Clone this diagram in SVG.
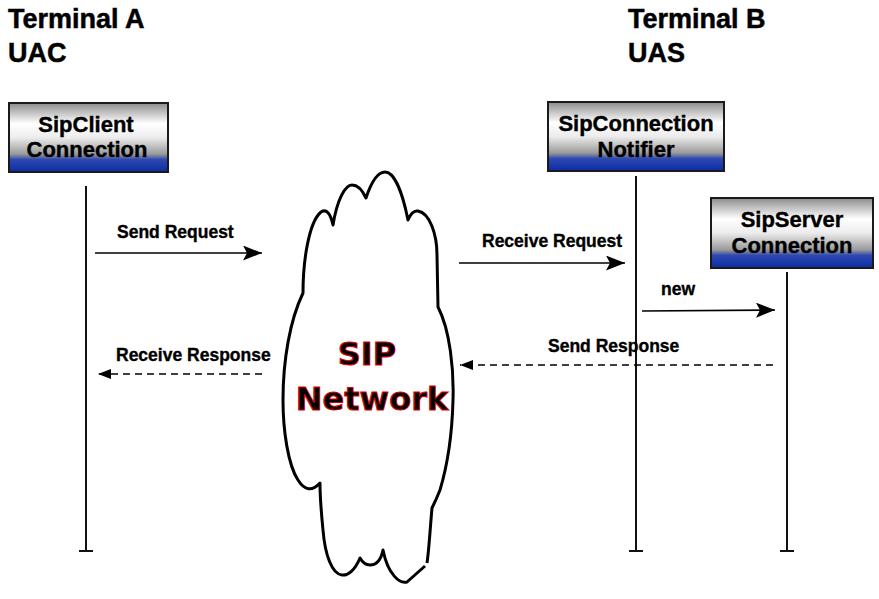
<svg xmlns="http://www.w3.org/2000/svg" width="879" height="599" viewBox="0 0 879 599">
<style>
.title{font-family:"Liberation Sans",Arial,sans-serif;font-weight:bold;font-size:27px;fill:#000;stroke:#000;stroke-width:0.5}
.box{stroke:#1a1a1a;stroke-width:2;fill:url(#boxg)}
.bt{font-family:"Liberation Sans",Arial,sans-serif;font-weight:bold;font-size:22px;fill:#000;stroke:#000;stroke-width:0.4;text-anchor:middle}
.lbl{font-family:"Liberation Sans",Arial,sans-serif;font-weight:bold;font-size:17.5px;fill:#000;stroke:#000;stroke-width:0.35}
.life{stroke:#111;stroke-width:2;fill:none}
.solid{stroke:#000;stroke-width:1.6;fill:none;marker-end:url(#ah)}
.dash{stroke:#000;stroke-width:1.6;fill:none;stroke-dasharray:7,5;marker-end:url(#ahs)}
.sip{font-family:"DejaVu Sans",Verdana,sans-serif;font-weight:bold;font-size:32px;fill:#000;stroke:#e00000;stroke-width:1;text-anchor:middle}
</style>
<defs>
<linearGradient id="boxg" x1="0" y1="0" x2="0" y2="1">
<stop offset="0" stop-color="#8c8c8c"/>
<stop offset="0.3" stop-color="#ffffff"/>
<stop offset="0.5" stop-color="#ececec"/>
<stop offset="0.74" stop-color="#9a9a9a"/>
<stop offset="0.82" stop-color="#2e48b0"/>
<stop offset="1" stop-color="#0a2ca6"/>
</linearGradient>
<marker id="ah" markerUnits="userSpaceOnUse" markerWidth="20" markerHeight="16" refX="19" refY="7.5" orient="auto">
<path d="M0,0 L19,7.5 L0,15 L4,7.5 Z" fill="#000"/>
</marker>
<marker id="ahs" markerUnits="userSpaceOnUse" markerWidth="14" markerHeight="12" refX="13" refY="5" orient="auto">
<path d="M0,0 L13,5 L0,10 Z" fill="#000"/>
</marker>
</defs>
<rect width="879" height="599" fill="#fff"/>

<g id="titleA">
<text class="title" x="8" y="28">Terminal A</text>
<text class="title" x="8" y="62">UAC</text>
</g>
<g id="titleB">
<text class="title" x="628" y="28">Terminal B</text>
<text class="title" x="628" y="62">UAS</text>
</g>

<g id="cloud">
<path d="M425,566 L407,582 C400,584 388,575 383,550 Q380,565 370,565 Q364,565 360,558 C355,570 348,576 342,575 C332,574 325,555 323,530 C321,510 320,495 320,483 Q308,496 298,480 C288,465 283,430 283,400 C283,360 290,320 303,293 C303,260 309,222 321,212 Q329,207 333,225 C337,200 345,185 352,185 Q360,185 366,198 C372,180 378,172 385,172 C395,172 403,195 408,220 Q412,210 418,211 C430,213 437,235 437,255 L438,307 C450,330 454,370 453,400 C452,440 446,470 440,490 Q436,500 432,508 C430,530 429,550 427,563" fill="#fff" stroke="#000" stroke-width="3" stroke-linejoin="round"/>
<text class="sip" x="367" y="365">SIP</text>
<text class="sip" x="372" y="410">Network</text>
</g>

<g id="lifelines">
<path class="life" d="M86,186 V551 M79,551 H93"/>
<path class="life" d="M636,176 V551 M629,551 H643"/>
<path class="life" d="M787,272 V551 M780,551 H794"/>
</g>

<g id="sipClient">
<rect class="box" x="9" y="103" width="159" height="69"/>
<text class="bt" x="86" y="132">SipClient</text>
<text class="bt" x="87" y="157">Connection</text>
</g>
<g id="sipNotifier">
<rect class="box" x="548" y="102" width="176" height="69"/>
<text class="bt" x="636" y="131">SipConnection</text>
<text class="bt" x="636" y="157">Notifier</text>
</g>
<g id="sipServer">
<rect class="box" x="711" y="198" width="162" height="70"/>
<text class="bt" x="792" y="227">SipServer</text>
<text class="bt" x="792" y="253">Connection</text>
</g>

<g id="connectors">
<line class="solid" x1="95" y1="253" x2="262" y2="253"/>
<text class="lbl" x="117" y="238">Send Request</text>
<line class="dash" x1="262" y1="374" x2="98" y2="374"/>
<text class="lbl" x="116" y="361">Receive Response</text>
<line class="solid" x1="459" y1="263" x2="625" y2="263"/>
<text class="lbl" x="482" y="247">Receive Request</text>
<line class="solid" x1="642" y1="311" x2="775" y2="310"/>
<text class="lbl" x="661" y="295">new</text>
<line class="dash" x1="773" y1="365" x2="460" y2="365"/>
<text class="lbl" x="548" y="352">Send Response</text>
</g>
</svg>
